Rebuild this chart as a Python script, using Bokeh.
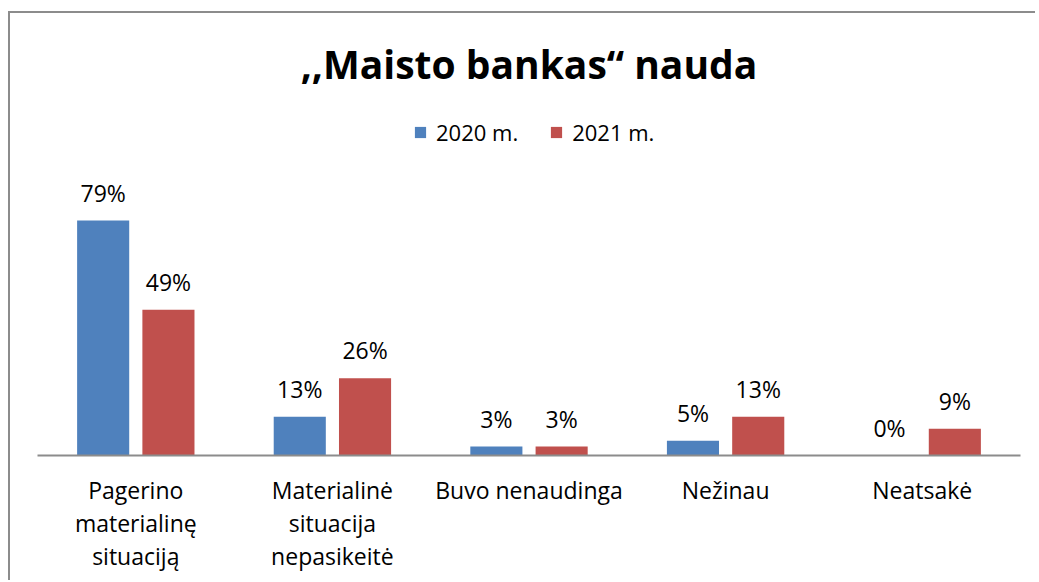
from bokeh.plotting import figure
from bokeh.models import ColumnDataSource, LabelSet, Legend, LegendItem, FactorRange, Range1d
from bokeh.transform import dodge
from bokeh.core.properties import value
from bokeh.embed import file_html
from bokeh.resources import INLINE

# ---- data ----
categories = ["Pagerino\nmaterialinę\nsituaciją", "Materialinė\nsituacija\nnepasikeitė",
              "Buvo nenaudinga", "Nežinau", "Neatsakė"]
series_names = ["2020 m.", "2021 m."]
values_2020 = [79, 13, 3, 5, 0]
values_2021 = [49, 26, 3, 13, 9]
title_text = ",,Maisto bankas\u201c nauda"

FONT = "Open Sans"
BLUE = "#4F81BD"
RED = "#C0504D"

src = ColumnDataSource(dict(
    cat=categories,
    v20=values_2020,
    v21=values_2021,
    t20=[f"{v}%" for v in values_2020],
    t21=[f"{v}%" for v in values_2021],
))

p = figure(
    x_range=FactorRange(factors=categories, range_padding=0),
    y_range=Range1d(0, 116),
    width=1027, height=569,
    output_backend="svg", toolbar_location=None,
    title=title_text,
    min_border_left=27, min_border_right=17, min_border_top=97, min_border_bottom=127,
)
p.styles = {"margin-left": "10px", "margin-top": "13px",
            "box-shadow": "-2px -2px 0 0 #8c8c8c"}

p.title.text_font = FONT
p.title.text_font_size = "39px"
p.title.text_font_style = "bold"
p.title.text_color = "black"
p.title.align = "center"
p.title.standoff = 42

p.outline_line_color = None
p.xgrid.grid_line_color = None
p.ygrid.grid_line_color = None
p.yaxis.visible = False

xa = p.xaxis[0]
xa.major_label_text_font = FONT
xa.major_label_text_font_size = "23px"
xa.major_label_text_color = "black"
xa.major_label_text_line_height = 1.035
xa.major_label_standoff = 18
xa.major_tick_line_color = None
xa.major_tick_in = 0
xa.major_tick_out = 0
xa.axis_line_color = "#8c8c8c"
xa.axis_line_width = 2

off = 0.166
bw = 0.265
r1 = p.vbar(x=dodge("cat", -off, range=p.x_range), top="v20", width=bw, source=src,
            fill_color=BLUE, line_color=None)
r2 = p.vbar(x=dodge("cat", off, range=p.x_range), top="v21", width=bw, source=src,
            fill_color=RED, line_color=None)

for col, txt, o in (("v20", "t20", -off), ("v21", "t21", off)):
    p.add_layout(LabelSet(x=dodge("cat", o, range=p.x_range), y=col, text=txt, source=src,
                          text_align="center", text_baseline="alphabetic", y_offset=19,
                          text_font=value(FONT), text_font_size=value("23px"),
                          text_color="black"))

legend = Legend(items=[LegendItem(label=series_names[0], renderers=[r1]),
                       LegendItem(label=series_names[1], renderers=[r2])],
                orientation="horizontal", location=(376, 308),
                glyph_width=14, glyph_height=14, label_standoff=9, spacing=31,
                padding=0, margin=0, border_line_color=None, background_fill_alpha=0,
                label_text_font=FONT, label_text_font_size="22px", label_text_color="black")
p.add_layout(legend)

open("out.html", "w").write(file_html(p, INLINE))
